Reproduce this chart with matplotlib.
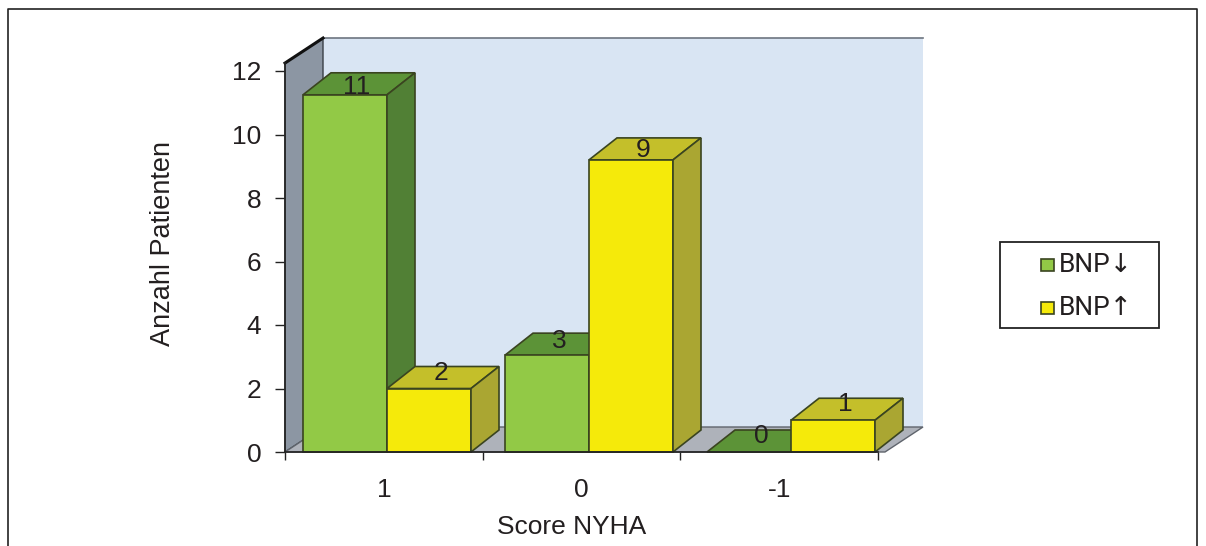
import matplotlib
matplotlib.use("Agg")
import matplotlib.pyplot as plt
from matplotlib.patches import Polygon, Rectangle

categories = ["1", "0", "-1"]
# printed labels and drawn heights differ a little in the reference
bnp_down = [11, 3, 0]
bnp_up = [2, 9, 1]
bnp_down_heights = [11.25, 3.05, 0]
bnp_up_heights = [2.0, 9.2, 1.0]
y_ticks = [0, 2, 4, 6, 8, 10, 12]

GREEN = ("#92c946", "#5c9337", "#518035")
YELLOW = ("#f5ea0a", "#c4bf2a", "#aaa632")
EDGE = "#3a4420"
TEXT = "#231f20"
FS = 19

plt.rcParams["font.family"] = ["Liberation Sans", "DejaVu Sans"]

W, H = 1206, 546
fig = plt.figure(figsize=(W / 100, H / 100), dpi=100)

left, right, bottom, top = 285, 878, 452, 71
ax = fig.add_axes([left / W, 1 - bottom / H, (right - left) / W, (bottom - top) / H])
ax.set_xlim(0, 3)
ax.set_ylim(0, 12)
ax.patch.set_visible(False)

UX = (right - left) / 3  # px per x unit
UY = (bottom - top) / 12  # px per y unit
WALL_DX, WALL_DY = 38 / UX, 25 / UY
DX, DY = 28 / UX, 22 / UY
BAR_W = 84 / UX
OFFS = 18 / UX
GROUP_STEP = 202 / UX
WALL_TOP = 12.25
FLOOR_END = 3 + 7 / UX


def draw_bar(x, height, cols, z):
    front, top_c, side = cols
    ax.add_patch(Polygon([(x, height), (x + BAR_W, height), (x + BAR_W + DX, height + DY), (x + DX, height + DY)],
                         fc=top_c, ec=EDGE, lw=1.2, zorder=z, clip_on=False))
    if height > 0:
        ax.add_patch(Rectangle((x, 0), BAR_W, height, fc=front, ec=EDGE, lw=1.2, zorder=z, clip_on=False))
        ax.add_patch(Polygon([(x + BAR_W, 0), (x + BAR_W + DX, DY), (x + BAR_W + DX, height + DY), (x + BAR_W, height)],
                             fc=side, ec=EDGE, lw=1.2, zorder=z, clip_on=False))


def bar_label(x, val):
    ax.text(x + BAR_W / 2 + DX / 2 - 2 / UX, val + 16 / UY, str(val), ha="center", va="center",
            fontsize=FS, color=TEXT, zorder=20, clip_on=False)


# back wall, side wall, floor
ax.add_patch(Polygon([(WALL_DX, WALL_DY), (FLOOR_END + WALL_DX, WALL_DY),
                      (FLOOR_END + WALL_DX, WALL_TOP + WALL_DY), (WALL_DX, WALL_TOP + WALL_DY)],
                     fc="#d9e5f3", ec="none", zorder=1, clip_on=False))
ax.plot([WALL_DX, FLOOR_END + WALL_DX], [WALL_TOP + WALL_DY] * 2, color="#6d7580", lw=1.2, zorder=1.5, clip_on=False)
ax.add_patch(Polygon([(0, 0), (WALL_DX, WALL_DY), (WALL_DX, WALL_TOP + WALL_DY), (0, WALL_TOP)],
                     fc="#8c96a3", ec="#3a3f46", lw=1, zorder=2, clip_on=False))
ax.plot([0, WALL_DX], [WALL_TOP, WALL_TOP + WALL_DY], color="#111111", lw=2.2, zorder=2.5, clip_on=False)
ax.add_patch(Polygon([(0, 0), (FLOOR_END, 0), (FLOOR_END + WALL_DX, WALL_DY), (WALL_DX, WALL_DY)],
                     fc="#aeb2ba", ec="#5f646c", lw=1, zorder=2, clip_on=False))

for i in range(len(categories)):
    x0 = OFFS + i * GROUP_STEP
    draw_bar(x0, bnp_down_heights[i], GREEN, 3 + i)
    draw_bar(x0 + BAR_W, bnp_up_heights[i], YELLOW, 3.5 + i)
    bar_label(x0, bnp_down[i])
    bar_label(x0 + BAR_W, bnp_up[i])

ax.set_xticks([0, 1, 2, 3])
ax.set_xticklabels([])
ax.set_xticks([0.5, 1.5, 2.5], labels=categories, minor=True)
ax.tick_params(axis="x", which="minor", length=0, labelsize=FS, pad=19, labelcolor=TEXT)
ax.tick_params(axis="x", which="major", length=6, direction="out", width=1, color="#222222")
ax.set_yticks(y_ticks)
ax.tick_params(axis="y", length=7, width=1, labelsize=FS, labelcolor=TEXT, color="#222222", pad=10)
for s in ("top", "right"):
    ax.spines[s].set_visible(False)
ax.spines["left"].set_bounds(0, WALL_TOP)
for s in ("left", "bottom"):
    ax.spines[s].set_linewidth(1.2)
    ax.spines[s].set_color("#222222")
    ax.spines[s].set_zorder(10)
ax.set_xlabel("Score NYHA", fontsize=FS, color=TEXT, va="center")
ax.xaxis.set_label_coords((572 - left) / (right - left), -(527 - bottom) / (bottom - top), transform=ax.transAxes)
ax.set_ylabel("Anzahl Patienten", fontsize=FS + 0.5, color=TEXT, va="center")
ax.yaxis.set_label_coords((163 - left) / (right - left), (bottom - 243) / (bottom - top), transform=ax.transAxes)

# outer frame, open at the bottom
frame = fig.add_axes([0, 0, 1, 1], zorder=-1)
frame.set_xlim(0, W)
frame.set_ylim(H, 0)
frame.axis("off")
frame.plot([8, 8, 1197, 1197], [546, 9, 9, 546], color="#222222", lw=1.2)

# legend box
frame.add_patch(Rectangle((1000, 242), 159, 86, fc="white", ec="#222222", lw=1.3))
for y, col, name in [(265, GREEN[0], "BNP\u2193"), (308, YELLOW[0], "BNP\u2191")]:
    frame.add_patch(Rectangle((1041, y - 6), 13, 12, fc=col, ec=EDGE, lw=1.2))
    frame.text(1059, y, name, fontsize=FS, va="center", ha="left", color=TEXT,
               family=["Roboto", "DejaVu Sans"])

fig.savefig("out.png", dpi=100)
